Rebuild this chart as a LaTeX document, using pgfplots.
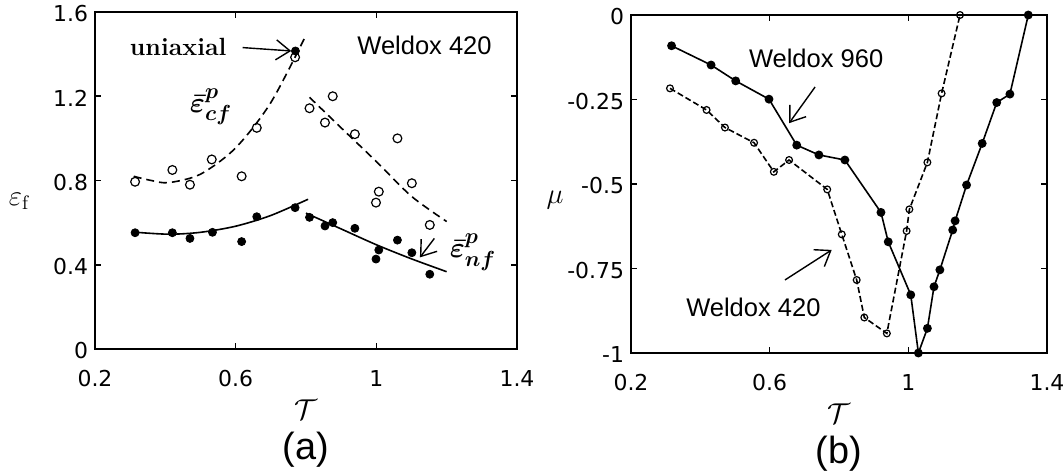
\documentclass[border=0pt]{standalone}
\usepackage{fontspec}
\usepackage{pgfplots}
\pgfplotsset{compat=1.18}
\usetikzlibrary{arrows.meta}
\newfontfamily\arial{Liberation Sans}
\newfontfamily\tickfont{DejaVu Sans}

\pgfplotsset{
 panel/.style={scale only axis, clip=false, anchor=south west,
   axis line style={line width=1bp}, tick align=inside, major tick length=3bp,
   tick style={line width=0.8bp, black},
   xmin=0.2, xmax=1.4, xtick={0.2,0.6,1,1.4}, xticklabels={0.2,0.6,1,1.4},
   ticklabel style={font=\tickfont\fontsize{11}{12}\selectfont},
   xticklabel style={yshift=-7bp},
   yticklabel style={yshift=-1bp}},
}
\tikzset{annarrow/.style={line width=0.7bp, -{Straight Barb[length=7bp,width=10bp,line width=0.7bp]}}}

\begin{document}
\begin{tikzpicture}
\path[use as bounding box] (0bp,0bp) rectangle (532bp,236.5bp);

% ---------------- panel (a) ----------------
\begin{axis}[panel, at={(47.5bp,62bp)}, width=211bp, height=168.5bp,
  ymin=0, ymax=1.6, ytick={0,0.4,0.8,1.2,1.6}, yticklabels={0,0.4,0.8,1.2,1.6}]
% fits
\addplot[black, line width=0.8bp, dash pattern=on 4bp off 2.5bp, smooth, tension=0.5] coordinates {
 (0.31,0.82) (0.36,0.80) (0.41,0.79) (0.5,0.83) (0.6,0.955) (0.7,1.17) (0.8,1.49)};
\addplot[black, line width=0.8bp, dash pattern=on 4bp off 2.5bp, smooth, tension=0.5] coordinates {
 (0.81,1.195) (0.9,1.05) (1.0,0.89) (1.1,0.725) (1.2,0.605)};
\addplot[black, line width=0.8bp, smooth, tension=0.5] coordinates {
 (0.31,0.555) (0.41,0.545) (0.5,0.554) (0.6,0.583) (0.7,0.634) (0.806,0.711)};
\addplot[black, line width=0.8bp, smooth, tension=0.5] coordinates {
 (0.8,0.645) (0.9,0.57) (1.0,0.495) (1.1,0.428) (1.2,0.367)};
% open circles (eps_cf)
\addplot[black, only marks, mark=o, mark size=2.2bp, mark options={line width=0.6bp}] coordinates {
 (0.314,0.794) (0.42,0.85) (0.47,0.78) (0.532,0.90) (0.617,0.82) (0.66,1.05)
 (0.769,1.385) (0.81,1.143) (0.854,1.075) (0.876,1.20) (0.939,1.02) (1.06,1.00)
 (1.101,0.787) (1.007,0.747) (0.999,0.695) (1.152,0.589)};
% uniaxial
\addplot[black, only marks, mark=*, mark size=2bp] coordinates {(0.77,1.415)};
% filled circles (eps_nf)
\addplot[black, only marks, mark=*, mark size=2bp] coordinates {
 (0.314,0.552) (0.42,0.552) (0.47,0.525) (0.534,0.554) (0.617,0.51) (0.66,0.628)
 (0.769,0.671) (0.81,0.625) (0.854,0.584) (0.876,0.60) (0.939,0.573) (1.06,0.517)
 (1.007,0.47) (0.999,0.427) (1.101,0.457) (1.152,0.355)};
% annotations
\node[anchor=east, font=\bfseries\fontsize{12.5}{14}\selectfont, inner sep=0pt] at (axis cs:0.575,1.435) {uniaxial};
\draw[annarrow] (axis cs:0.62,1.431) -- (axis cs:0.758,1.415);
\node[font=\arial\fontsize{12.8}{14}\selectfont] at (axis cs:1.137,1.443) {Weldox 420};
\node[font=\boldmath\fontsize{15}{17}\selectfont] at (axis cs:0.53,1.15) {$\bar{\varepsilon}^{p}_{cf}$};
\node[font=\boldmath\fontsize{15}{17}\selectfont] at (axis cs:1.275,0.46) {$\bar{\varepsilon}^{p}_{nf}$};
\draw[annarrow] (axis cs:1.165,0.525) -- (axis cs:1.124,0.435);
\node[font=\fontsize{14}{16}\selectfont] at ([yshift=-30.5bp]rel axis cs:0.5,0) {$\mathcal{T}$};
\node[font=\fontsize{14}{16}\selectfont] at ([xshift=-38bp,yshift=74bp]rel axis cs:0,0) {$\varepsilon_{\mathrm{f}}$};
\node[font=\arial\fontsize{19}{21}\selectfont] at ([yshift=-50.5bp]rel axis cs:0.5,0) {(a)};
\end{axis}

% ---------------- panel (b) ----------------
\begin{axis}[panel, at={(315.5bp,60bp)}, width=208bp, height=169bp,
  ymin=-1, ymax=0, ytick={-1,-0.75,-0.5,-0.25,0}, yticklabels={-1,-0.75,-0.5,-0.25,0}]
% Weldox 960
\addplot[black, line width=0.8bp, mark=*, mark size=1.8bp] coordinates {
 (0.317,-0.091) (0.431,-0.148) (0.502,-0.195) (0.598,-0.249) (0.678,-0.385)
 (0.742,-0.414) (0.817,-0.429) (0.921,-0.584) (0.942,-0.671) (1.007,-0.828)
 (1.029,-1.0) (1.055,-0.927) (1.074,-0.804) (1.091,-0.754) (1.128,-0.636)
 (1.135,-0.609) (1.168,-0.503) (1.213,-0.380) (1.255,-0.259) (1.293,-0.234) (1.346,0)};
% Weldox 420
\addplot[black, line width=0.8bp, dash pattern=on 3bp off 1.5bp, mark=o, mark size=1.7bp,
  mark options={solid, line width=0.6bp}] coordinates {
 (0.3125,-0.217) (0.418,-0.281) (0.471,-0.333) (0.555,-0.378) (0.612,-0.464)
 (0.656,-0.429) (0.766,-0.516) (0.808,-0.649) (0.851,-0.784) (0.873,-0.895)
 (0.938,-0.942) (0.995,-0.639) (1.003,-0.575) (1.055,-0.436) (1.096,-0.232) (1.149,0)};
\node[font=\arial\fontsize{12.8}{14}\selectfont] at (axis cs:0.734,-0.127) {Weldox 960};
\draw[annarrow] (axis cs:0.731,-0.213) -- (axis cs:0.656,-0.320);
\node[font=\arial\fontsize{12.8}{14}\selectfont] at (axis cs:0.553,-0.864) {Weldox 420};
\draw[annarrow] (axis cs:0.644,-0.784) -- (axis cs:0.779,-0.695);
\node[font=\fontsize{14}{16}\selectfont] at ([yshift=-30.5bp]rel axis cs:0.5,0) {$\mathcal{T}$};
\node[font=\fontsize{14}{16}\selectfont] at ([xshift=-38bp,yshift=76.5bp]rel axis cs:0,0) {$\mu$};
\node[font=\arial\fontsize{19}{21}\selectfont] at ([yshift=-50.5bp]rel axis cs:0.5,0) {(b)};
\end{axis}
\end{tikzpicture}
\end{document}
